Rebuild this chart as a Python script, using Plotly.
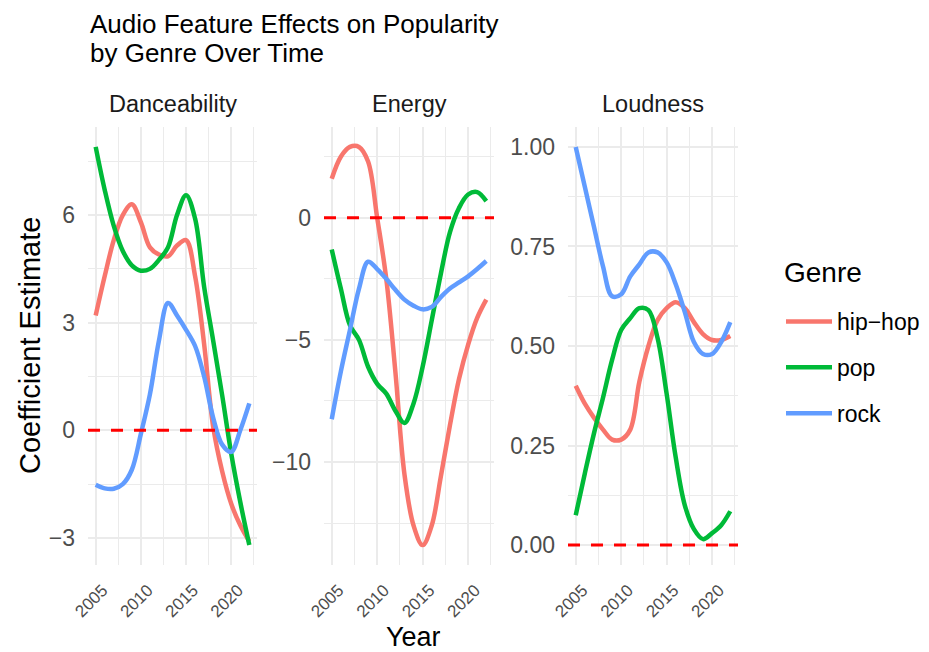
import plotly.graph_objects as go

years = list(range(2005, 2023))
features = ["Danceability", "Energy", "Loudness"]
genres = ["hip−hop", "pop", "rock"]
colors = {"hip−hop": "#F8766D", "pop": "#00BA38", "rock": "#619CFF"}

dance_hiphop = [3.2, 4.3, 5.3, 6.0, 6.3, 5.8, 5.1, 4.9, 4.85, 5.15, 5.3, 4.3, 2.4, 0.1, -1.15, -2.05, -2.65, -3.1]
dance_pop = [7.9, 6.7, 5.7, 5.0, 4.6, 4.45, 4.5, 4.75, 5.1, 6.0, 6.55, 5.9, 4.0, 2.5, 0.97, -0.65, -2.0, -3.2]
dance_rock = [-1.52, -1.62, -1.63, -1.5, -1.1, -0.1, 1.0, 2.5, 3.55, 3.2, 2.8, 2.35, 1.5, 0.35, -0.4, -0.6, 0.0, 0.75]

energy_hiphop = [1.6, 2.5, 2.9, 2.9, 2.3, 0.0, -2.5, -6.3, -10.5, -12.6, -13.4, -12.6, -10.6, -8.5, -6.6, -5.2, -4.1, -3.35]
energy_pop = [-1.3, -2.9, -4.4, -5.0, -6.1, -6.8, -7.2, -7.9, -8.4, -7.6, -6.1, -4.2, -2.3, -0.6, 0.4, 0.95, 1.05, 0.68]
energy_rock = [-8.25, -6.3, -4.6, -2.9, -1.8, -2.1, -2.5, -2.95, -3.35, -3.6, -3.75, -3.65, -3.25, -2.9, -2.65, -2.4, -2.1, -1.77]

loud_hiphop = [0.40, 0.355, 0.32, 0.29, 0.265, 0.265, 0.29, 0.41, 0.50, 0.565, 0.595, 0.61, 0.595, 0.56, 0.53, 0.515, 0.515, 0.525]
loud_pop = [0.075, 0.18, 0.28, 0.37, 0.465, 0.54, 0.57, 0.595, 0.59, 0.52, 0.38, 0.22, 0.10, 0.04, 0.015, 0.03, 0.05, 0.085]
loud_rock = [1.0, 0.90, 0.80, 0.70, 0.625, 0.63, 0.675, 0.705, 0.735, 0.735, 0.71, 0.655, 0.585, 0.51, 0.48, 0.48, 0.51, 0.56]

panel_data = {
    "Danceability": {"hip−hop": dance_hiphop, "pop": dance_pop, "rock": dance_rock},
    "Energy": {"hip−hop": energy_hiphop, "pop": energy_pop, "rock": energy_rock},
    "Loudness": {"hip−hop": loud_hiphop, "pop": loud_pop, "rock": loud_rock},
}
y_ticks = {
    "Danceability": [-3, 0, 3, 6],
    "Energy": [-10, -5, 0],
    "Loudness": [0.0, 0.25, 0.5, 0.75, 1.0],
}
y_ticktext = {
    "Danceability": ["−3", "0", "3", "6"],
    "Energy": ["−10", "−5", "0"],
    "Loudness": ["0.00", "0.25", "0.50", "0.75", "1.00"],
}
y_minor = {"Danceability": 1.5, "Energy": 2.5, "Loudness": 0.125}
x_ticks = [2005, 2010, 2015, 2020]
ref_line = 0

W, H = 929, 652
x_dom_px = [(88, 257), (324, 494), (568, 738)]
y_dom_px = (127, 565)
FONT = "Liberation Sans, Arial, sans-serif"
GRID = "#EBEBEB"

fig = go.Figure()

xmin, xmax = min(years), max(years)
xpad = (xmax - xmin) * 0.05

for i, feat in enumerate(features):
    ax = "" if i == 0 else str(i + 1)
    for g in genres:
        fig.add_trace(go.Scatter(
            x=years, y=panel_data[feat][g], mode="lines",
            line=dict(color=colors[g], width=4.5, shape="spline", smoothing=1.0),
            name=g, legendgroup=g, showlegend=(i == 0),
            xaxis="x" + ax, yaxis="y" + ax,
        ))
    vals = [v for g in genres for v in panel_data[feat][g]] + [ref_line]
    lo, hi = min(vals), max(vals)
    pad = (hi - lo) * 0.05
    x0, x1 = x_dom_px[i]
    fig.update_layout(**{
        "xaxis" + ax: dict(
            domain=[x0 / W, x1 / W], anchor="y" + ax,
            range=[xmin - xpad, xmax + xpad],
            tickvals=x_ticks, ticktext=[str(t) for t in x_ticks],
            tickangle=-45, tickfont=dict(family=FONT, size=17, color="#4D4D4D"),
            showgrid=True, gridcolor=GRID, gridwidth=2,
            minor=dict(dtick=2.5, tick0=2005, showgrid=True, gridcolor=GRID, gridwidth=1),
            zeroline=False, showline=False, ticks="", automargin=False,
            ticklabelstandoff=11, ticklabelshift=7,
        ),
        "yaxis" + ax: dict(
            domain=[1 - y_dom_px[1] / H, 1 - y_dom_px[0] / H], anchor="x" + ax,
            range=[lo - pad, hi + pad],
            tickvals=y_ticks[feat], ticktext=y_ticktext[feat],
            tickfont=dict(family=FONT, size=23, color="#4D4D4D"),
            showgrid=True, gridcolor=GRID, gridwidth=2,
            minor=dict(dtick=y_minor[feat], tick0=0, showgrid=True, gridcolor=GRID, gridwidth=1),
            zeroline=False, showline=False, ticks="", automargin=False,
            ticklabelstandoff=12,
        ),
    })
    fig.add_shape(type="line", xref="x" + ax + " domain", yref="y" + ax,
                  x0=0, x1=1, y0=ref_line, y1=ref_line,
                  line=dict(color="#FF0000", width=3, dash="12px,11px"))
    fig.add_annotation(text=feat, x=(x0 + x1) / 2 / W, y=1 - 104 / H, xref="paper", yref="paper",
                       xanchor="center", yanchor="middle", showarrow=False,
                       font=dict(family=FONT, size=23.5, color="#1A1A1A"))

fig.add_annotation(text="Audio Feature Effects on Popularity", x=88 / W, y=1 - 24 / H,
                   xref="paper", yref="paper", xanchor="left", yanchor="middle", showarrow=False,
                   font=dict(family=FONT, size=26, color="#000000"))
fig.add_annotation(text="by Genre Over Time", x=88 / W, y=1 - 52.5 / H,
                   xref="paper", yref="paper", xanchor="left", yanchor="middle", showarrow=False,
                   font=dict(family=FONT, size=26, color="#000000"))
fig.add_annotation(text="Coefficient Estimate", x=30 / W, y=1 - 346 / H, textangle=-90,
                   xref="paper", yref="paper", xanchor="center", yanchor="middle", showarrow=False,
                   font=dict(family=FONT, size=29, color="#000000"))
fig.add_annotation(text="Year", x=413 / W, y=1 - 637 / H, height=28,
                   xref="paper", yref="paper", xanchor="center", yanchor="middle", showarrow=False,
                   font=dict(family=FONT, size=27, color="#000000"))
fig.add_annotation(text="Genre", x=782 / W, y=1 - 272 / H,
                   xref="paper", yref="paper", xanchor="left", yanchor="middle", showarrow=False,
                   font=dict(family=FONT, size=28, color="#000000"))

fig.update_layout(
    width=W, height=H, margin=dict(l=0, r=0, t=0, b=0),
    paper_bgcolor="white", plot_bgcolor="white",
    showlegend=True,
    legend=dict(
        font=dict(family=FONT, size=23, color="#000000"),
        x=781 / W, y=1 - 300 / H, xanchor="left", yanchor="top",
        traceorder="grouped", tracegroupgap=13, itemwidth=46,
        bgcolor="rgba(0,0,0,0)",
    ),
)

fig.write_html("out.html")
